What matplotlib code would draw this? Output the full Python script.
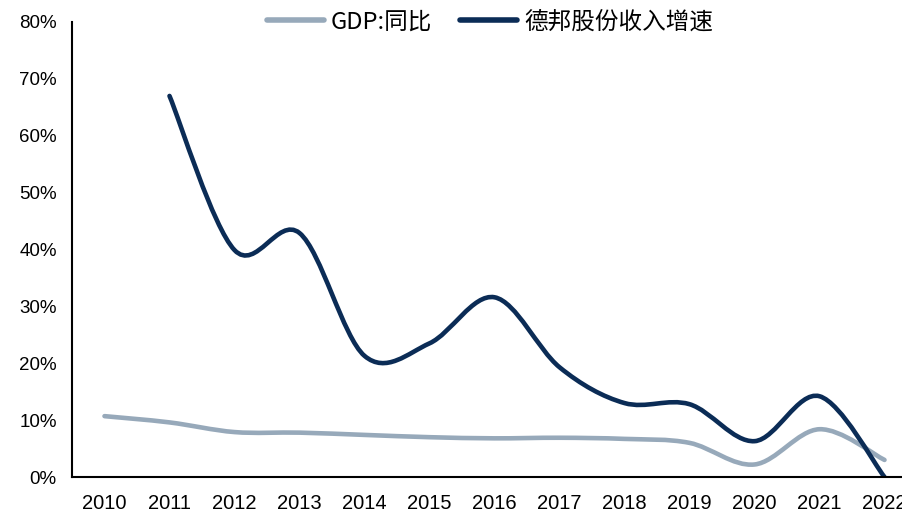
import numpy as np
from matplotlib import pyplot as plt
from matplotlib.path import Path
from matplotlib.patches import PathPatch
from matplotlib.lines import Line2D

years = ["2010", "2011", "2012", "2013", "2014", "2015", "2016",
         "2017", "2018", "2019", "2020", "2021", "2022"]
gdp = [10.7, 9.6, 7.9, 7.8, 7.4, 7.0, 6.8, 6.9, 6.7, 6.0, 2.2, 8.4, 3.0]
# revenue series starts in 2011
rev_years = years[1:]
rev = [67.0, 39.9, 42.9, 21.3, 23.5, 31.6, 19.3, 13.0, 12.8, 6.3, 14.2, 0.0]

c_gdp = "#97a9ba"
c_rev = "#0b2c56"


def smooth_path(x, y):
    # bezier smoothing like excel's "smoothed line"
    x = np.asarray(x, float)
    y = np.asarray(y, float)
    n = len(x)
    verts = [(x[0], y[0])]
    codes = [Path.MOVETO]
    for i in range(n - 1):
        x0, y0 = (x[i - 1], y[i - 1]) if i > 0 else (x[i], y[i])
        x3, y3 = (x[i + 2], y[i + 2]) if i + 2 < n else (x[i + 1], y[i + 1])
        c1 = (x[i] + (x[i + 1] - x0) / 6, y[i] + (y[i + 1] - y0) / 6)
        c2 = (x[i + 1] - (x3 - x[i]) / 6, y[i + 1] - (y3 - y[i]) / 6)
        verts += [c1, c2, (x[i + 1], y[i + 1])]
        codes += [Path.CURVE4] * 3
    return Path(verts, codes)


plt.rcParams['font.family'] = ['Liberation Sans', 'Noto Sans CJK SC']

fig = plt.figure(figsize=(9.02, 5.16), dpi=100)
ax = fig.add_axes([72 / 902, 1 - 477 / 516, 845 / 902, 455 / 516])

xg = np.arange(len(years))
xr = np.array([years.index(y) for y in rev_years])

ax.add_patch(PathPatch(smooth_path(xg, gdp), fill=False, edgecolor=c_gdp,
                       lw=3.3, capstyle='round', joinstyle='round'))
ax.add_patch(PathPatch(smooth_path(xr, rev), fill=False, edgecolor=c_rev,
                       lw=3.3, capstyle='round', joinstyle='round'))

ax.set_xlim(-0.5, len(years) - 0.5)
ax.set_ylim(0, 80)
ax.set_xticks(xg)
ax.set_xticklabels(years)
ax.set_yticks(np.arange(0, 81, 10))
ax.set_yticklabels([f"{v}%" for v in range(0, 81, 10)])
ax.tick_params(axis='both', length=0, colors='black')
ax.tick_params(axis='x', pad=12, labelsize=14.5)
ax.tick_params(axis='y', pad=11, labelsize=13.5)
for s in ['top', 'right']:
    ax.spines[s].set_visible(False)
for s in ['left', 'bottom']:
    ax.spines[s].set_linewidth(1.5)
    ax.spines[s].set_color('black')

handles = [Line2D([], [], color=c_gdp, lw=4, solid_capstyle='round'),
           Line2D([], [], color=c_rev, lw=4, solid_capstyle='round')]
fig.legend(handles, ["GDP:同比", "德邦股份收入增速"], loc='center',
           bbox_to_anchor=(490 / 902, 1 - 22 / 516), ncol=2, frameon=False,
           prop={'family': ['Noto Sans CJK SC'], 'size': 17},
           handlelength=2.4, columnspacing=1.2, handletextpad=0.3)

fig.savefig("out.png", dpi=100)
